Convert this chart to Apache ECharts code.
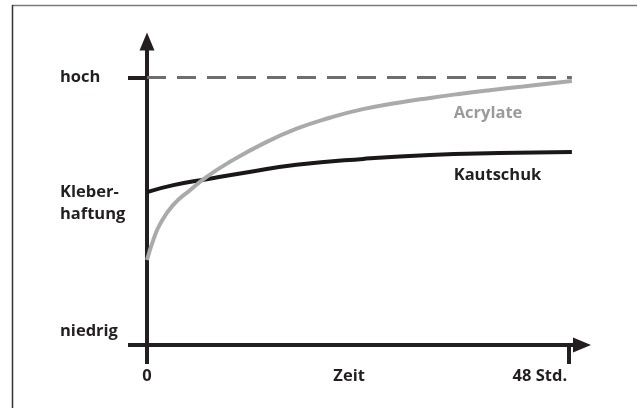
<!DOCTYPE html>
<html lang="de">
<head>
    <meta charset="UTF-8">
    <title>Kleberhaftung</title>
    <script src="https://cdn.jsdelivr.net/npm/echarts@6/dist/echarts.min.js"></script>
    <style>
        html, body { margin: 0; padding: 0; background: #fff; }
        #chart { width: 637px; height: 408px; }
    </style>
</head>
<body>
<div id="chart"></div>
<script type="text/javascript">
    // Daten
    var acrylateX = [0, 0.72, 1.48, 2.96, 4.89, 6.79, 9.44, 13.23, 17.03, 20.82, 24.57, 28.41, 32.2, 35.3, 39.0, 42.8, 48.35];
    var acrylateY = [31.8, 39.3, 45.2, 52.3, 57.9, 62.9, 68.5, 75.3, 80.9, 85.0, 88.2, 90.5, 92.4, 93.8, 95.3, 96.7, 98.7];
    var kautschukX = [0, 3, 6.8, 11.3, 17, 24.6, 32.2, 40, 48.35];
    var kautschukY = [57.2, 59.8, 62, 64.5, 67.4, 69.6, 71.1, 71.8, 72.2];

    var yLabelValues = [5, 53, 100];
    var yLabelTexts = ['niedrig', 'Kleber-\nhaftung', 'hoch'];
    var yTickValues = [0, 100];
    var xLabelValues = [0, 23, 44.7];
    var xLabelTexts = ['0', 'Zeit', '48 Std.'];
    var xTickValues = [0, 48];
    var hochLevel = 100;
    var endTime = 48.35;

    function pairs(xs, ys) {
        var res = [];
        for (var i = 0; i < xs.length; i++) {
            res.push([xs[i], ys[i]]);
        }
        return res;
    }

    var chart = echarts.init(document.getElementById('chart'));
    var font = '"Open Sans", "Noto Sans", sans-serif';
    var fontSize = 16.5;
    var axisColor = '#231f20';

    var option = {
        animation: false,
        grid: { left: 147, right: 55, top: 41.5, bottom: 63 },
        graphic: [
            { type: 'line', shape: { x1: 12, y1: 5.5, x2: 637, y2: 5.5 }, style: { stroke: '#7a7a7a', lineWidth: 1.5 } },
            { type: 'line', shape: { x1: 12.5, y1: 5, x2: 12.5, y2: 408 }, style: { stroke: '#333', lineWidth: 1.5 } }
        ],
        xAxis: {
            type: 'value',
            min: 0,
            max: 49.5,
            splitLine: { show: false },
            axisLine: {
                onZero: false,
                lineStyle: { color: axisColor, width: 4 },
                symbol: ['none', 'triangle'],
                symbolSize: [15, 18]
            },
            axisTick: { customValues: xTickValues, length: 19, lineStyle: { color: axisColor, width: 4 } },
            axisLabel: {
                customValues: xLabelValues,
                margin: 23,
                color: '#231f20',
                fontFamily: font,
                fontWeight: 'bold',
                fontSize: fontSize,
                formatter: function (v) {
                    return xLabelTexts[xLabelValues.indexOf(v)];
                }
            }
        },
        yAxis: {
            type: 'value',
            min: 0,
            max: 113.5,
            splitLine: { show: false },
            axisLine: {
                onZero: false,
                lineStyle: { color: axisColor, width: 4 },
                symbol: ['none', 'triangle'],
                symbolSize: [15, 18]
            },
            axisTick: { customValues: yTickValues, length: 19, lineStyle: { color: axisColor, width: 4 } },
            axisLabel: {
                customValues: yLabelValues,
                margin: 87,
                align: 'left',
                lineHeight: 22,
                color: '#231f20',
                fontFamily: font,
                fontWeight: 'bold',
                fontSize: fontSize,
                formatter: function (v) {
                    return yLabelTexts[yLabelValues.indexOf(v)];
                }
            }
        },
        series: [
            {
                name: 'Kautschuk',
                type: 'line',
                smooth: 0.5,
                showSymbol: false,
                data: pairs(kautschukX, kautschukY),
                lineStyle: { color: '#1b1718', width: 4 },
                markPoint: {
                    symbolSize: 0,
                    label: {
                        show: true, position: 'right', distance: 0,
                        formatter: 'Kautschuk', color: '#231f20',
                        fontFamily: font, fontWeight: 'bold', fontSize: fontSize
                    },
                    data: [{ coord: [34.9, 63.6] }]
                },
                markLine: {
                    silent: true,
                    symbol: 'none',
                    label: { show: false },
                    lineStyle: { color: '#6e6e6e', width: 3, type: [19, 11] },
                    data: [[{ coord: [0, hochLevel] }, { coord: [endTime, hochLevel] }]]
                }
            },
            {
                name: 'Acrylate',
                type: 'line',
                smooth: 0.5,
                showSymbol: false,
                data: pairs(acrylateX, acrylateY),
                lineStyle: { color: '#aaaaaa', width: 4 },
                markPoint: {
                    symbolSize: 0,
                    label: {
                        show: true, position: 'right', distance: 0,
                        formatter: 'Acrylate', color: '#9a9a9a',
                        fontFamily: font, fontWeight: 'bold', fontSize: fontSize
                    },
                    data: [{ coord: [34.9, 86.7] }]
                }
            }
        ]
    };

    chart.setOption(option);
</script>
</body>
</html>
